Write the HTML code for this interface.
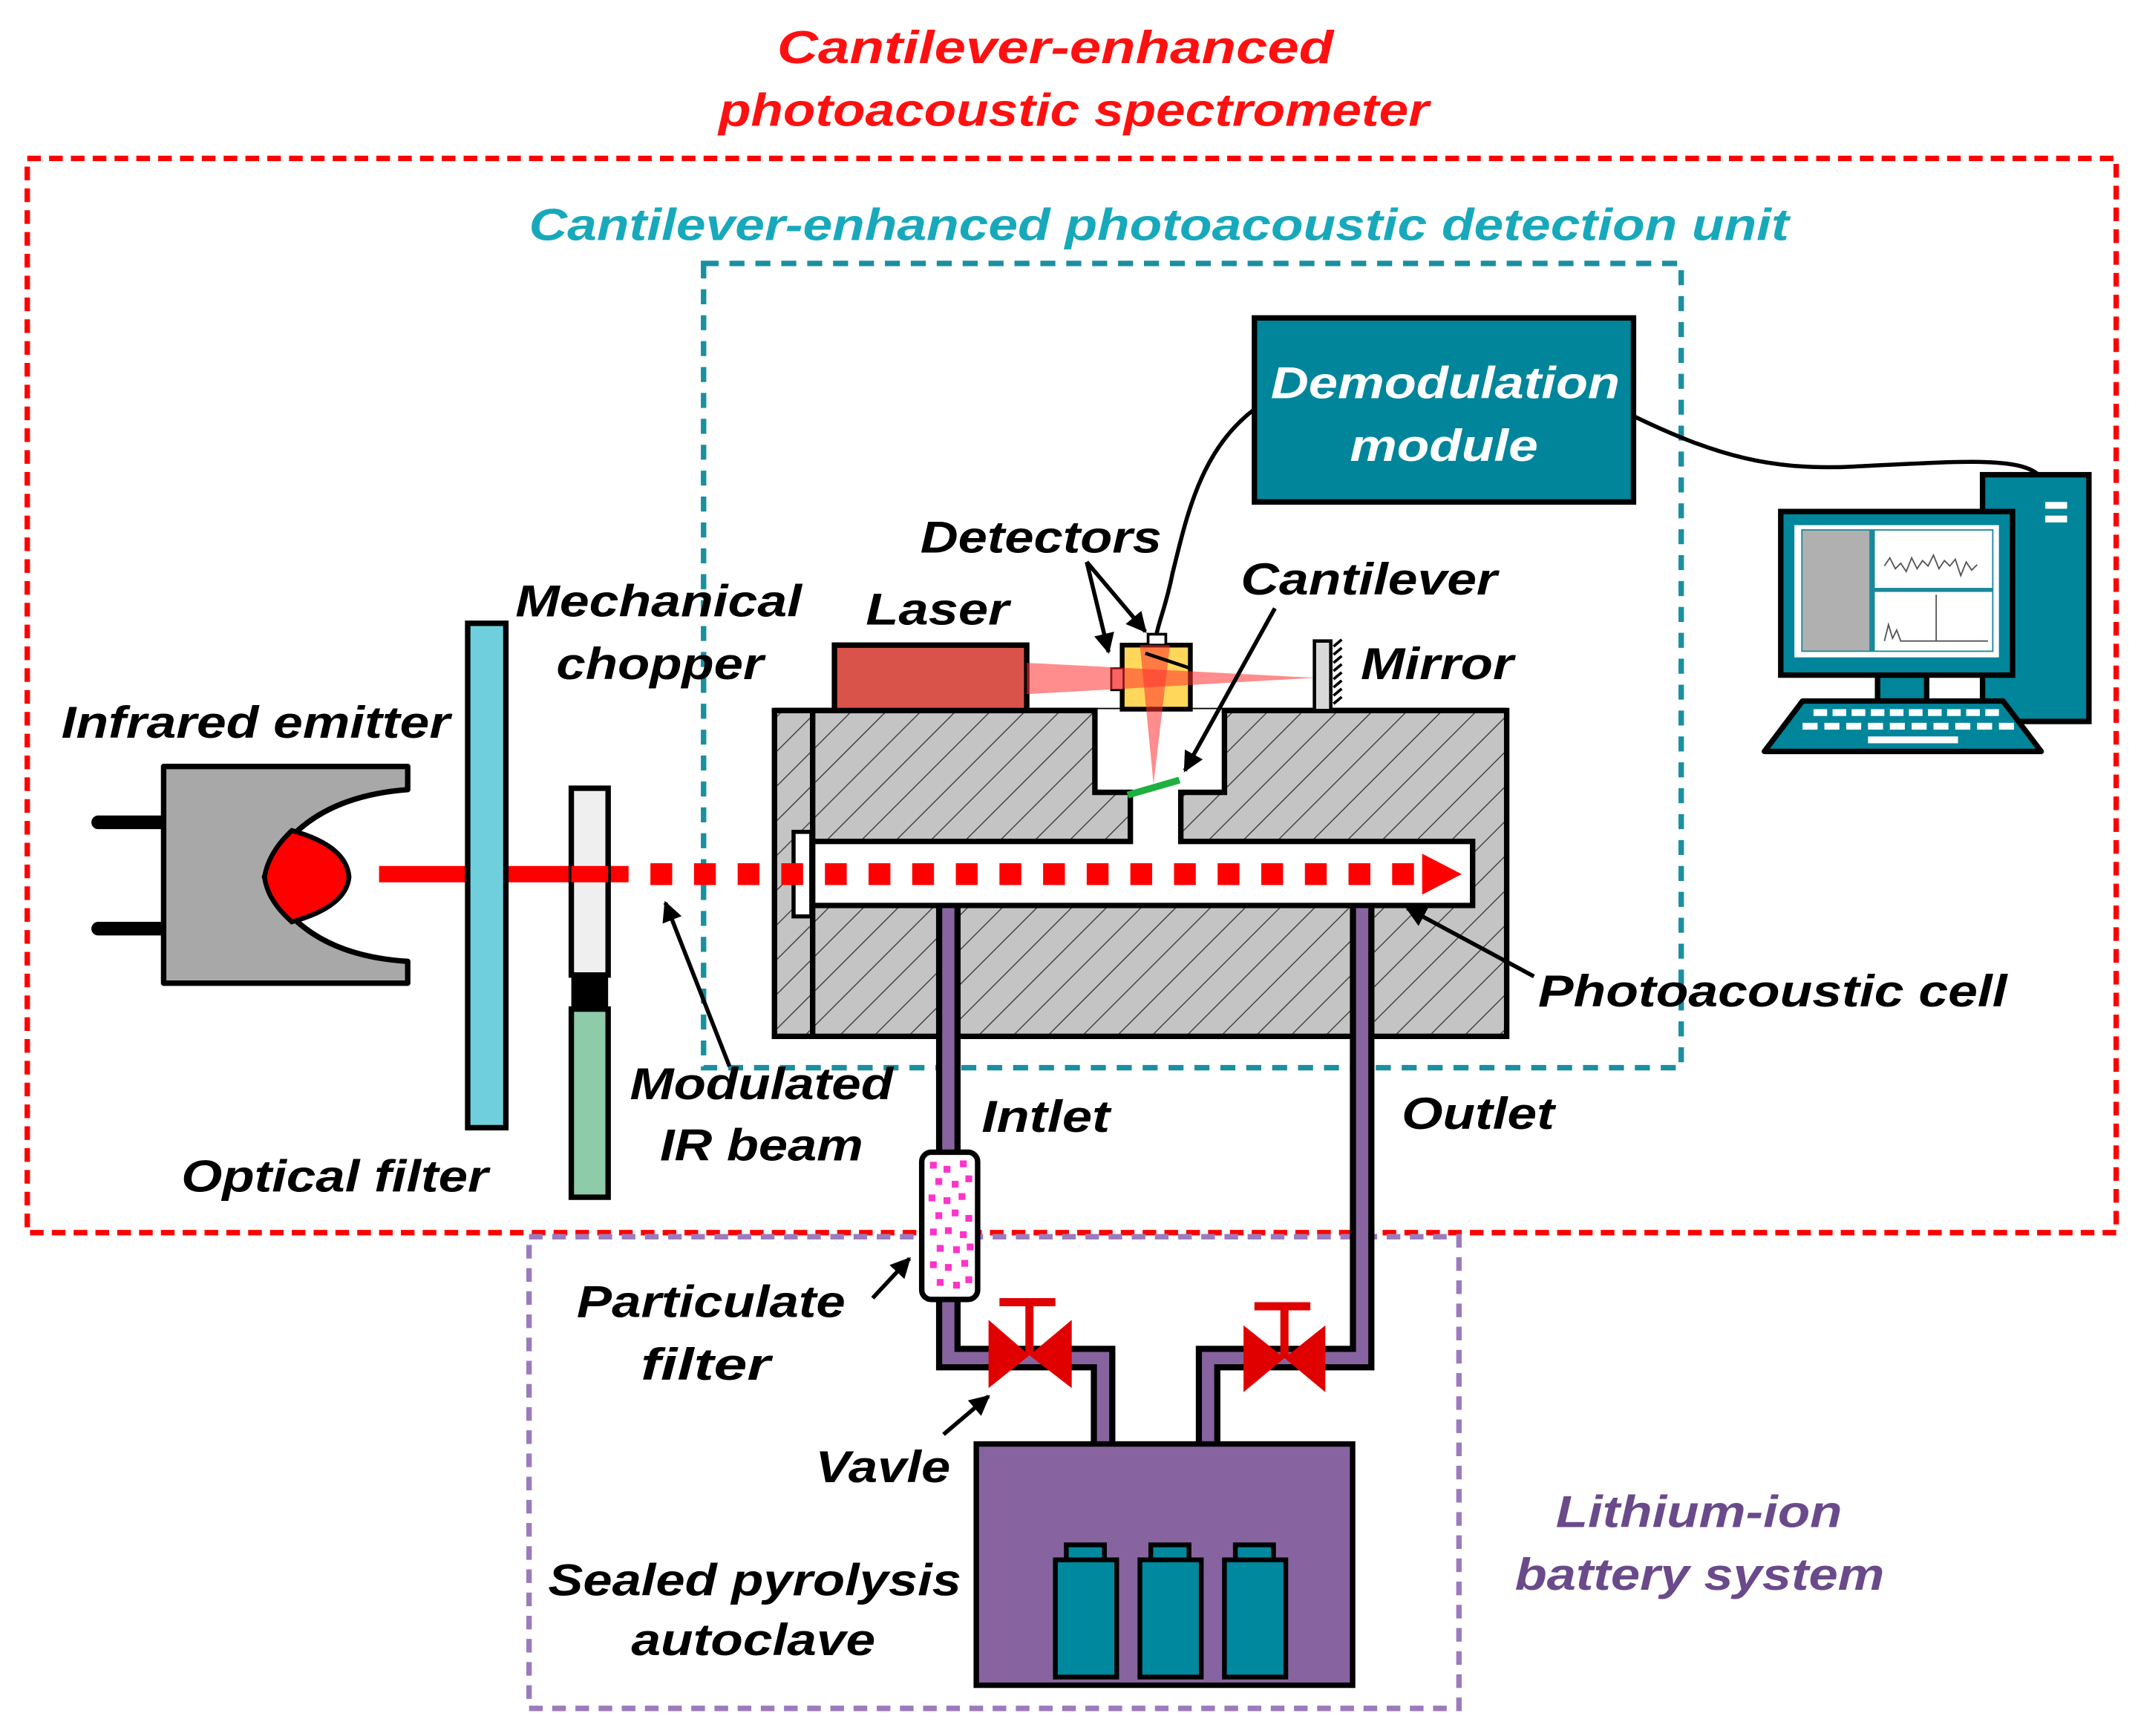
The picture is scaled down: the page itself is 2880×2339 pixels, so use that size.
<!DOCTYPE html>
<html><head><meta charset="utf-8"><style>html,body{margin:0;padding:0;background:#fff}svg{display:block}text{font-family:"Liberation Sans",sans-serif;font-weight:bold;font-style:italic}</style></head>
<body>
<svg width="2880" height="2339" viewBox="0 0 1568 1273" xmlns="http://www.w3.org/2000/svg">
<defs>
<pattern id="hatch" patternUnits="userSpaceOnUse" width="18" height="18" patternTransform="rotate(45)">
<rect width="18" height="18" fill="#c4c4c4"/><line x1="0" y1="0" x2="0" y2="18" stroke="#444" stroke-width="1.6"/>
</pattern>
<marker id="ah" viewBox="0 0 10 10" refX="9" refY="5" markerWidth="5" markerHeight="5" orient="auto"><path d="M0,0 L10,5 L0,10 z" fill="#000"/></marker>
</defs>

<!-- dashed boxes -->
<rect x="20" y="116" width="1532" height="788" fill="none" stroke="#ff0000" stroke-width="4" stroke-dasharray="10 6"/>
<rect x="516" y="193" width="717" height="590" fill="none" stroke="#1a8fa0" stroke-width="4" stroke-dasharray="11 8"/>
<rect x="388" y="907" width="682" height="346" fill="none" stroke="#9b7bbd" stroke-width="4" stroke-dasharray="10 7"/>

<!-- titles -->
<text x="570" y="46" font-size="34" fill="#ff1010" textLength="408" lengthAdjust="spacingAndGlyphs">Cantilever-enhanced</text>
<text x="527" y="92" font-size="34" fill="#ff1010" textLength="521" lengthAdjust="spacingAndGlyphs">photoacoustic spectrometer</text>
<text x="388" y="176" font-size="33" fill="#17a9bb" textLength="924" lengthAdjust="spacingAndGlyphs">Cantilever-enhanced photoacoustic detection unit</text>

<!-- demod module -->
<rect x="920" y="233" width="278" height="135" fill="#00859a" stroke="#000" stroke-width="4"/>
<text x="932" y="292" font-size="33" fill="#fff" textLength="256" lengthAdjust="spacingAndGlyphs">Demodulation</text>
<text x="990" y="338" font-size="33" fill="#fff" textLength="138" lengthAdjust="spacingAndGlyphs">module</text>

<!-- cables -->
<path d="M920,300 C880,330 870,380 860,420 C855,445 850,455 848,466" fill="none" stroke="#000" stroke-width="3"/>
<path d="M1198,305 C1260,335 1300,345 1360,342 C1440,338 1480,335 1495,348" fill="none" stroke="#000" stroke-width="3"/>

<!-- computer -->
<rect x="1454" y="348" width="78" height="181" fill="#00859a" stroke="#000" stroke-width="4"/>
<rect x="1500" y="368" width="16" height="5" fill="#fff"/><rect x="1500" y="378" width="16" height="5" fill="#fff"/>
<rect x="1377" y="494" width="36" height="20" fill="#00859a" stroke="#000" stroke-width="4"/>
<path d="M1322,514 L1469,514 L1497,551 L1294,551 z" fill="#00859a" stroke="#000" stroke-width="4" stroke-linejoin="round"/>
<g fill="#fff">
<rect x="1330" y="520" width="10" height="5"/><rect x="1344" y="520" width="10" height="5"/><rect x="1358" y="520" width="10" height="5"/><rect x="1372" y="520" width="10" height="5"/><rect x="1386" y="520" width="10" height="5"/><rect x="1400" y="520" width="10" height="5"/><rect x="1414" y="520" width="10" height="5"/><rect x="1428" y="520" width="10" height="5"/><rect x="1442" y="520" width="10" height="5"/><rect x="1456" y="520" width="10" height="5"/>
<rect x="1322" y="530" width="11" height="5"/><rect x="1338" y="530" width="11" height="5"/><rect x="1354" y="530" width="11" height="5"/><rect x="1370" y="530" width="11" height="5"/><rect x="1386" y="530" width="11" height="5"/><rect x="1402" y="530" width="11" height="5"/><rect x="1418" y="530" width="11" height="5"/><rect x="1434" y="530" width="11" height="5"/><rect x="1450" y="530" width="11" height="5"/><rect x="1466" y="530" width="11" height="5"/>
<rect x="1370" y="540" width="66" height="5"/>
</g>
<rect x="1306" y="375" width="170" height="120" fill="#00859a" stroke="#000" stroke-width="4"/>
<rect x="1316" y="385" width="150" height="97" fill="#fff"/>
<rect x="1321" y="388" width="141" height="90" fill="#1a8a9a"/>
<rect x="1322" y="389" width="49" height="88" fill="#b0b0b0"/>
<rect x="1375" y="389" width="86" height="42" fill="#fff"/>
<rect x="1375" y="434" width="86" height="43" fill="#fff"/>
<path d="M1382,415 l4,-6 4,8 4,-4 4,6 4,-10 4,8 4,-6 4,4 4,-8 4,10 4,-6 4,4 4,-5 4,12 4,-10 4,6 4,-4" fill="none" stroke="#555" stroke-width="1"/>
<path d="M1382,470 l3,-12 3,10 3,-6 3,8 3,0 L1420,470 l0,-34 0,34 L1458,470" fill="none" stroke="#555" stroke-width="1"/>

<!-- emitter -->
<line x1="72" y1="603" x2="120" y2="603" stroke="#000" stroke-width="10" stroke-linecap="round"/>
<line x1="72" y1="681" x2="120" y2="681" stroke="#000" stroke-width="10" stroke-linecap="round"/>
<path d="M120,562 L299,562 L299,579 Q220,585 194,643 Q220,700 299,705 L299,721 L120,721 z" fill="#a8a8a8" stroke="#000" stroke-width="4" stroke-linejoin="round"/>
<path d="M214,609 Q254,620 256,643 Q254,665 214,676 Q196,660 194,643 Q197,625 214,609 z" fill="#ff0000" stroke="#000" stroke-width="3.5"/>

<!-- beam solid -->
<rect x="278" y="635" width="183" height="12" fill="#ff0000"/>
<!-- optical filter -->
<rect x="343" y="457" width="28" height="370" fill="#6fcfdd" stroke="#000" stroke-width="4"/>
<!-- chopper -->
<rect x="419" y="578" width="27" height="137" fill="#efefef" stroke="#000" stroke-width="4"/>
<rect x="419" y="715" width="27" height="25" fill="#000"/>
<rect x="419" y="740" width="27" height="138" fill="#8ecba8" stroke="#000" stroke-width="4"/>
<rect x="419" y="635" width="27" height="12" fill="#ff0000"/>

<!-- photoacoustic cell -->
<rect x="568" y="521" width="537" height="239" fill="url(#hatch)" stroke="#000" stroke-width="4"/>
<line x1="596" y1="521" x2="596" y2="760" stroke="#000" stroke-width="4"/>
<path d="M803,521 L803,581 L829,581 L829,617 L596,617 L596,664 L1080,664 L1080,617 L866,617 L866,581 L898,581 L898,521" fill="#fff" stroke="#000" stroke-width="4"/>
<rect x="590" y="521" width="306" height="0" />
<line x1="805" y1="521" x2="896" y2="521" stroke="#fff" stroke-width="2"/>
<line x1="568" y1="521" x2="1105" y2="521" stroke="#000" stroke-width="4" stroke-dasharray="237 91 209"/>
<rect x="582" y="610" width="13" height="62" fill="#fff" stroke="#000" stroke-width="3"/>
<line x1="827" y1="583" x2="865" y2="572" stroke="#1fb040" stroke-width="5"/>

<!-- dashed beam -->
<g fill="#ff0000">
<rect x="477" y="633" width="16" height="16"/><rect x="509" y="633" width="16" height="16"/><rect x="541" y="633" width="16" height="16"/><rect x="573" y="633" width="16" height="16"/><rect x="605" y="633" width="16" height="16"/><rect x="637" y="633" width="16" height="16"/><rect x="669" y="633" width="16" height="16"/><rect x="701" y="633" width="16" height="16"/><rect x="733" y="633" width="16" height="16"/><rect x="765" y="633" width="16" height="16"/><rect x="797" y="633" width="16" height="16"/><rect x="829" y="633" width="16" height="16"/><rect x="861" y="633" width="16" height="16"/><rect x="893" y="633" width="16" height="16"/><rect x="925" y="633" width="16" height="16"/><rect x="957" y="633" width="16" height="16"/><rect x="989" y="633" width="16" height="16"/><rect x="1021" y="633" width="16" height="16"/>
<path d="M1043,626 L1072,641 L1043,656 z"/>
</g>

<!-- laser, detector, mirror -->
<rect x="612" y="473" width="141" height="48" fill="#d9534a" stroke="#000" stroke-width="4"/>
<rect x="823" y="473" width="50" height="47" fill="#ffd75a" stroke="#000" stroke-width="3.5"/>
<rect x="842" y="465" width="13" height="8" fill="#fff" stroke="#000" stroke-width="2"/>
<rect x="815" y="490" width="9" height="16" fill="#f7a0a0" stroke="#000" stroke-width="1.5"/>
<polygon points="753,486 965,497 753,509" fill="#ff3030" opacity="0.55"/>
<polygon points="836,473 858,473 846,575" fill="#ff3030" opacity="0.55"/>
<line x1="840" y1="479" x2="873" y2="490" stroke="#000" stroke-width="2.5"/>
<rect x="964" y="470" width="12" height="51" fill="#d8d8d8" stroke="#000" stroke-width="2.5"/>
<path d="M978,474 l6,-5 M978,480 l6,-5 M978,486 l6,-5 M978,492 l6,-5 M978,498 l6,-5 M978,504 l6,-5 M978,510 l6,-5 M978,516 l6,-5" stroke="#000" stroke-width="2"/>

<!-- tubes -->
<g fill="none" stroke-linejoin="miter">
<path d="M695.5,666 L695.5,996 L809,996 L809,1060" stroke="#000" stroke-width="18"/>
<path d="M695.5,666 L695.5,996 L809,996 L809,1060" stroke="#8764a0" stroke-width="9"/>
<path d="M999,666 L999,996 L886,996 L886,1060" stroke="#000" stroke-width="18"/>
<path d="M999,666 L999,996 L886,996 L886,1060" stroke="#8764a0" stroke-width="9"/>
</g>

<!-- particulate filter -->
<rect x="676" y="845" width="41" height="108" rx="7" fill="#fff" stroke="#000" stroke-width="4"/>
<g fill="#ff33cc">
<rect x="682" y="852" width="5" height="5"/><rect x="692" y="855" width="5" height="5"/><rect x="704" y="851" width="5" height="5"/><rect x="686" y="864" width="5" height="5"/><rect x="698" y="866" width="5" height="5"/><rect x="708" y="862" width="5" height="5"/><rect x="681" y="876" width="5" height="5"/><rect x="692" y="878" width="5" height="5"/><rect x="703" y="875" width="5" height="5"/><rect x="686" y="889" width="5" height="5"/><rect x="698" y="887" width="5" height="5"/><rect x="708" y="891" width="5" height="5"/><rect x="682" y="901" width="5" height="5"/><rect x="693" y="900" width="5" height="5"/><rect x="704" y="903" width="5" height="5"/><rect x="687" y="913" width="5" height="5"/><rect x="699" y="914" width="5" height="5"/><rect x="709" y="912" width="5" height="5"/><rect x="682" y="925" width="5" height="5"/><rect x="693" y="927" width="5" height="5"/><rect x="705" y="924" width="5" height="5"/><rect x="687" y="938" width="5" height="5"/><rect x="699" y="940" width="5" height="5"/><rect x="708" y="936" width="5" height="5"/>
</g>

<!-- valves -->
<g fill="#e00000">
<polygon points="725,968 755,994 725,1018"/><polygon points="786,968 755,994 786,1018"/>
<rect x="752" y="955" width="6" height="39"/><rect x="733" y="952" width="41" height="6"/>
<polygon points="912,972 942,996 912,1021"/><polygon points="972,972 942,996 972,1021"/>
<rect x="939" y="958" width="6" height="38"/><rect x="920" y="955" width="41" height="6"/>
</g>

<!-- autoclave -->
<rect x="716" y="1059" width="276" height="177" fill="#8764a0" stroke="#000" stroke-width="4"/>
<g fill="#00889e" stroke="#000" stroke-width="3.5">
<rect x="782" y="1133" width="28" height="12"/><rect x="774" y="1144" width="45" height="86"/>
<rect x="844" y="1133" width="28" height="12"/><rect x="836" y="1144" width="45" height="86"/>
<rect x="906" y="1133" width="28" height="12"/><rect x="898" y="1144" width="45" height="86"/>
</g>

<!-- arrows -->
<g stroke="#000" stroke-width="3" fill="none" marker-end="url(#ah)">
<line x1="797" y1="412" x2="813" y2="478"/>
<line x1="797" y1="412" x2="840" y2="463"/>
<line x1="935" y1="446" x2="869" y2="565"/>
<line x1="535" y1="782" x2="488" y2="662"/>
<line x1="1125" y1="716" x2="1032" y2="666"/>
<line x1="640" y1="952" x2="667" y2="923"/>
<line x1="692" y1="1052" x2="725" y2="1024"/>
</g>

<!-- labels -->
<g font-size="33" fill="#000">
<text x="675" y="405" textLength="177" lengthAdjust="spacingAndGlyphs">Detectors</text>
<text x="910" y="436" textLength="188" lengthAdjust="spacingAndGlyphs">Cantilever</text>
<text x="378" y="452" textLength="210" lengthAdjust="spacingAndGlyphs">Mechanical</text>
<text x="408" y="498" textLength="152" lengthAdjust="spacingAndGlyphs">chopper</text>
<text x="635" y="458" textLength="105" lengthAdjust="spacingAndGlyphs">Laser</text>
<text x="998" y="498" textLength="112" lengthAdjust="spacingAndGlyphs">Mirror</text>
<text x="45" y="541" textLength="285" lengthAdjust="spacingAndGlyphs">Infrared emitter</text>
<text x="1128" y="738" textLength="344" lengthAdjust="spacingAndGlyphs">Photoacoustic cell</text>
<text x="462" y="806" textLength="193" lengthAdjust="spacingAndGlyphs">Modulated</text>
<text x="484" y="851" textLength="149" lengthAdjust="spacingAndGlyphs">IR beam</text>
<text x="720" y="830" textLength="94" lengthAdjust="spacingAndGlyphs">Intlet</text>
<text x="1028" y="828" textLength="112" lengthAdjust="spacingAndGlyphs">Outlet</text>
<text x="133" y="874" textLength="225" lengthAdjust="spacingAndGlyphs">Optical filter</text>
<text x="423" y="966" textLength="197" lengthAdjust="spacingAndGlyphs">Particulate</text>
<text x="470" y="1012" textLength="95" lengthAdjust="spacingAndGlyphs">filter</text>
<text x="598" y="1087" textLength="99" lengthAdjust="spacingAndGlyphs">Vavle</text>
<text x="402" y="1170" textLength="303" lengthAdjust="spacingAndGlyphs">Sealed pyrolysis</text>
<text x="463" y="1214" textLength="179" lengthAdjust="spacingAndGlyphs">autoclave</text>
</g>
<text x="1141" y="1120" font-size="33" fill="#6a4a8a" textLength="210" lengthAdjust="spacingAndGlyphs">Lithium-ion</text>
<text x="1111" y="1166" font-size="33" fill="#6a4a8a" textLength="271" lengthAdjust="spacingAndGlyphs">battery system</text>
</svg>
</body></html>
